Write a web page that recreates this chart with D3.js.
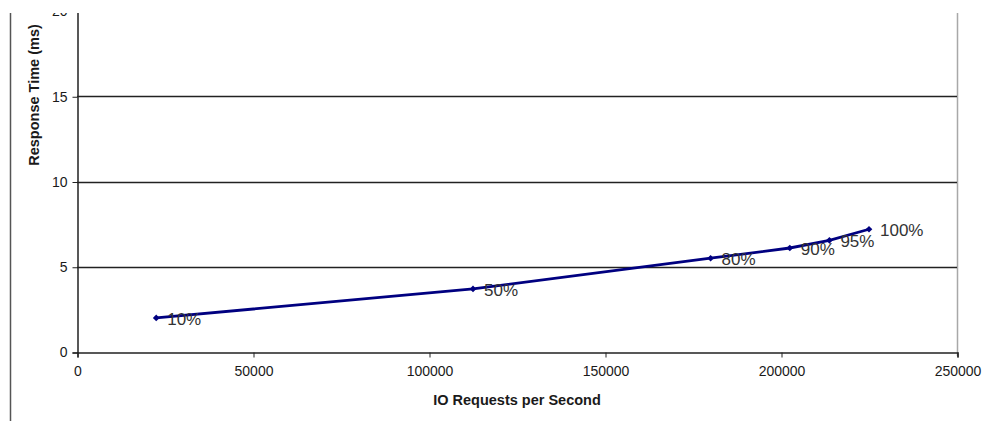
<!DOCTYPE html>
<html>
<head>
<meta charset="utf-8">
<script src="https://cdn.jsdelivr.net/npm/d3@7"></script>
<style>
  html, body { margin: 0; padding: 0; background: #fff; }
  svg { display: block; font-family: Arial, "Liberation Sans", sans-serif; }
</style>
</head>
<body>
<svg id="chart" width="985" height="421"></svg>
<script>
// ---- data ----
const loadLabels = ["10%", "50%", "80%", "90%", "95%", "100%"];
const iops = [22500, 112500, 180000, 202500, 213750, 225000];
const responseMs = [2.0, 3.7, 5.5, 6.1, 6.55, 7.2];
const xTicks = [0, 50000, 100000, 150000, 200000, 250000];
const yTicks = [0, 5, 10, 15, 20];
const xTitle = "IO Requests per Second";
const yTitle = "Response Time (ms)";

(function () {
const data = iops.map((v, i) => ({ x: v, y: responseMs[i], label: loadLabels[i] }));

const svg = d3.select("#chart");
const W = 985, H = 421;
const mLeft = 77, mRight = 957, mBottom = 352, mTop = 11;
const font = "Arial, 'Liberation Sans', sans-serif";

// clip everything above the cropped top edge
svg.append("defs").append("clipPath").attr("id", "crop")
  .append("rect").attr("x", 0).attr("y", 13).attr("width", W).attr("height", H - 13);
const root = svg.append("g").attr("clip-path", "url(#crop)");

const x = d3.scaleLinear().domain([0, 250000]).range([mLeft, mRight]);
const y = d3.scaleLinear().domain([0, 20]).range([mBottom, mTop]);

// outer left border
root.append("line").attr("x1", 10.5).attr("x2", 10.5).attr("y1", 0).attr("y2", H)
  .attr("stroke", "#555").attr("stroke-width", 1.5);

// right plot border
root.append("line").attr("x1", mRight + 0.5).attr("x2", mRight + 0.5).attr("y1", 0).attr("y2", mBottom + 4)
  .attr("stroke", "#a8a8a8").attr("stroke-width", 1.5);

// gridlines
root.append("g").selectAll("line").data(yTicks.filter(d => d > 0)).join("line")
  .attr("x1", mLeft).attr("x2", mRight)
  .attr("y1", d => Math.round(y(d)) + 0.5).attr("y2", d => Math.round(y(d)) + 0.5)
  .attr("stroke", "#222").attr("stroke-width", 1.5);

// y axis
const yAxis = root.append("g").attr("transform", `translate(${mLeft + 0.5},0.5)`)
  .call(d3.axisLeft(y).tickValues(yTicks).tickSize(5).tickPadding(5).tickFormat(d3.format("d")));
yAxis.select(".domain").attr("stroke", "#222").attr("stroke-width", 1.5);
yAxis.selectAll(".tick line").attr("stroke", "#222");
yAxis.selectAll(".tick text").attr("font-size", 14).attr("fill", "#1a1a1a").attr("font-family", font);

// x axis
const xAxis = root.append("g").attr("transform", `translate(0.5,${mBottom + 0.5})`)
  .call(d3.axisBottom(x).tickValues(xTicks).tickSize(5).tickPadding(9).tickFormat(d3.format("d")));
xAxis.select(".domain").attr("stroke", "#222").attr("stroke-width", 1.5);
xAxis.selectAll(".tick line").attr("stroke", "#222");
xAxis.selectAll(".tick text").attr("font-size", 14).attr("fill", "#1a1a1a").attr("font-family", font);

// axis titles
root.append("text").attr("x", 517).attr("y", 405).attr("text-anchor", "middle")
  .attr("font-size", 14.5).attr("font-weight", "bold").attr("fill", "#1a1a1a").text(xTitle);
root.append("text").attr("transform", "translate(39,95) rotate(-90)").attr("text-anchor", "middle")
  .attr("font-size", 14.5).attr("font-weight", "bold").attr("fill", "#1a1a1a").text(yTitle);

// series line
root.append("path").datum(data)
  .attr("d", d3.line().x(d => x(d.x)).y(d => y(d.y)))
  .attr("fill", "none").attr("stroke", "#000080").attr("stroke-width", 2.8);

// markers
root.append("g").selectAll("path").data(data).join("path")
  .attr("transform", d => `translate(${x(d.x)},${y(d.y)})`)
  .attr("d", d3.symbol().type(d3.symbolDiamond2 || d3.symbolDiamond).size(28))
  .attr("fill", "#000080");

// point labels
root.append("g").selectAll("text").data(data).join("text")
  .attr("x", d => x(d.x) + 11).attr("y", d => y(d.y)).attr("dy", "0.4em")
  .attr("font-size", 17).attr("fill", "#333").text(d => d.label);
})();
</script>
</body>
</html>
